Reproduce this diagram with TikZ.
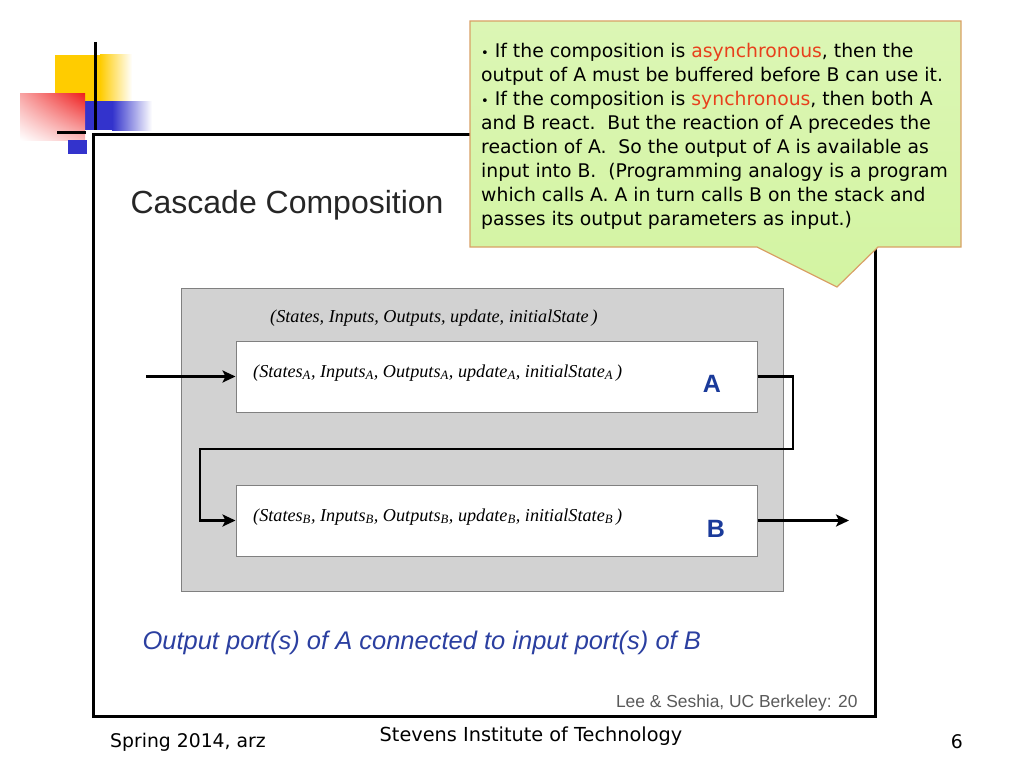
\documentclass[tikz,border=0pt]{standalone}
\usepackage{fontspec}
\setmainfont{Liberation Sans}
\newfontfamily\comicfont{DejaVu Sans}
\newfontfamily\timesfont{Liberation Serif}
\usetikzlibrary{positioning,arrows.meta,shadings}
\definecolor{slideyellow}{HTML}{FFCC00}
\definecolor{slideblue}{HTML}{3333CC}
\definecolor{slidered}{HTML}{EE1C1C}
\definecolor{notegreen}{HTML}{D3F4A2}
\definecolor{noteedge}{HTML}{D9A066}
\definecolor{hotred}{HTML}{E8401C}
\definecolor{portblue}{HTML}{2B3FA0}
\definecolor{labelblue}{HTML}{1A3A9A}
\definecolor{boxgray}{HTML}{D2D2D2}
\definecolor{creditgray}{HTML}{5A5A5A}
\newcommand{\notedot}{{\fontsize{13}{13}\selectfont\textbullet}}
\begin{document}
\begin{tikzpicture}[x=1pt,y=-1pt,>={Stealth[length=13pt,width=12pt,inset=3pt]},
    machine/.style={draw=gray,line width=1pt,fill=white,minimum width=521pt,minimum height=71pt,inner sep=0pt},
    tuple/.style={font=\timesfont\itshape\fontsize{18.2}{20}\selectfont,anchor=west,inner sep=0pt},
    tag/.style={font=\bfseries\fontsize{25}{27}\selectfont,text=labelblue,inner sep=0pt},
    wire/.style={->,line width=2.8pt},
    foot/.style={font=\comicfont\fontsize{18.8}{22}\selectfont,inner sep=0pt}]
  \useasboundingbox (0,0) rectangle (1024,768);
  % corner decoration
  \fill[slideyellow] (55,55) rectangle (100,102);
  \shade[left color=slideyellow,right color=white] (100,55) rectangle (132,102);
  \fill[slideblue] (85,101) rectangle (112,130);
  \shade[left color=slideblue,right color=white] (112,101) rectangle (152,130);
  \shade[upper right=slidered,upper left=slidered!40,lower left=white,lower right=slidered!30] (20,93) rectangle (85,140);
  \fill[slideblue] (68,140) rectangle (87,154);
  \draw[line width=3pt] (95,42) -- (95,130);
  \draw[line width=3pt] (57,132.5) -- (86,132.5);
  % slide frame
  \node[draw,line width=3pt,minimum width=782pt,minimum height=582pt,inner sep=0pt] (frame) at (484.5,425) {};
  \node[anchor=west,font=\fontsize{32}{36}\selectfont,text=black!85] (title) at (127,205) {Cascade Composition};
  % composition
  \node[draw=gray,line width=1pt,fill=boxgray,minimum width=602pt,minimum height=303pt] (cascade) at (482,439.5) {};
  \node[tuple] (tupleC) at (270,318) {(States, Inputs, Outputs, update, initialState\,)};
  \node[machine] (boxA) at (496.5,376.5) {};
  \node[machine] (boxB) at (496.5,520.5) {};
  \node[tuple] (tupleA) at (253,373) {(States\textsubscript{A}, Inputs\textsubscript{A}, Outputs\textsubscript{A}, update\textsubscript{A}, initialState\textsubscript{A}\,)};
  \node[tuple] (tupleB) at (253,517) {(States\textsubscript{B}, Inputs\textsubscript{B}, Outputs\textsubscript{B}, update\textsubscript{B}, initialState\textsubscript{B}\,)};
  \node[tag] (A) at (712,384) {A};
  \node[tag] (B) at (716,529) {B};
  \coordinate (in) at (146,376.5);
  \coordinate (out) at (849,520.5);
  \draw[wire] (in) -- (boxA.west);
  \draw[wire] (boxA.east) -| (793,449) -| (200,520.5) -- (boxB.west);
  \draw[wire] (boxB.east) -- (out);
  \node[anchor=west,font=\itshape\fontsize{25.5}{28}\selectfont,text=portblue] (ports) at (139,643) {Output port(s) of A connected to input port(s) of B};
  \node[anchor=east,font=\fontsize{17.4}{20}\selectfont,text=creditgray] (credit) at (861,703) {Lee \& Seshia, UC Berkeley: 20};
  % footer
  \node[foot,anchor=west] (term) at (110,742) {Spring 2014, arz};
  \node[foot,font=\comicfont\fontsize{19.3}{22}\selectfont] (school) at (531,736) {Stevens Institute of Technology};
  \node[foot,anchor=east] (page) at (963,742) {6};
  % callout
  \draw[noteedge,line width=1.2pt,top color=notegreen!80!white,bottom color=notegreen] (470,21) -- (961,21) -- (961,247) -- (878,247) -- (837,287) -- (757,247) -- (470,247) -- cycle;
  \node[anchor=north west,align=left,inner sep=0pt,font=\comicfont\fontsize{18.8}{24}\selectfont] (note) at (481,43)
    {\notedot\ If the composition is \textcolor{hotred}{asynchronous}, then the\\
     output of A must be buffered before B can use it.\\
     \notedot\ If the composition is \textcolor{hotred}{synchronous}, then both A\\
     and B react.\ \ But the reaction of A precedes the\\
     reaction of A.\ \ So the output of A is available as\\
     input into B.\ \ (Programming analogy is a program\\
     which calls A. A in turn calls B on the stack and\\
     passes its output parameters as input.)};
\end{tikzpicture}
\end{document}
